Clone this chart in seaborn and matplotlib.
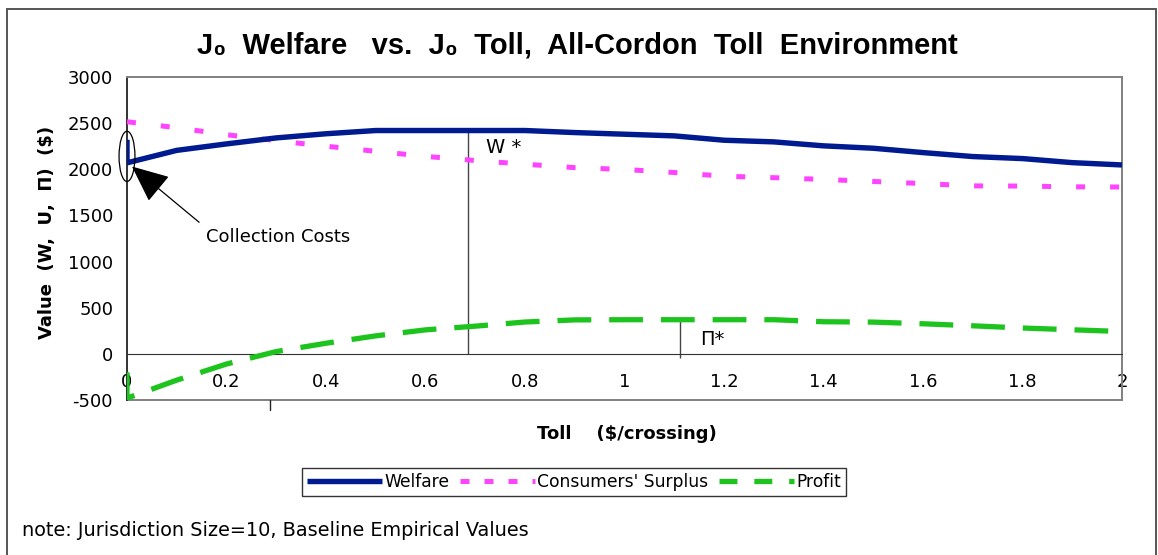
import numpy as np
import pandas as pd
import matplotlib
matplotlib.use("Agg")
import matplotlib.pyplot as plt
import seaborn as sns
from matplotlib.lines import Line2D
from matplotlib.patches import Ellipse, Rectangle

# toll values ($/crossing); x=0 appears twice (with and without collection costs)
toll = [0, 0, 0.1, 0.2, 0.3, 0.4, 0.5, 0.6, 0.7, 0.8, 0.9, 1.0,
        1.1, 1.2, 1.3, 1.4, 1.5, 1.6, 1.7, 1.8, 1.9, 2.0]
welfare = [2320, 2070, 2205, 2275, 2340, 2385, 2420, 2420, 2420, 2420, 2398, 2380,
           2362, 2315, 2297, 2254, 2228, 2181, 2138, 2116, 2072, 2047]
cons_surplus = [2515, 2515, 2450, 2375, 2310, 2250, 2195, 2140, 2095, 2055, 2018, 1998,
                1965, 1925, 1909, 1890, 1868, 1845, 1820, 1818, 1810, 1808]
profit = [-200, -480, -285, -110, 25, 115, 195, 260, 300, 345, 368, 370,
          370, 370, 370, 348, 344, 326, 304, 280, 261, 242]

w_star_toll, w_star_val = 0.685, 2410
p_star_toll, p_star_val = 1.112, 370

x_ticks = [0, 0.2, 0.4, 0.6, 0.8, 1, 1.2, 1.4, 1.6, 1.8, 2]
x_tick_labels = ['0', '0.2', '0.4', '0.6', '0.8', '1', '1.2', '1.4', '1.6', '1.8', '2']
y_ticks = [-500, 0, 500, 1000, 1500, 2000, 2500, 3000]

df = pd.DataFrame({'Toll': toll, 'Welfare': welfare,
                   "Consumers' Surplus": cons_surplus, 'Profit': profit})

navy = '#001a8f'
pink = '#ff44ff'
green = '#1ec41e'
pink_dash = (1.8, 5.0)
green_dash = (6.4, 3.4)

sns.set_style('white')
plt.rcParams['font.family'] = ['DejaVu Sans']
plt.rcParams['axes.unicode_minus'] = False
for k in ['text.color', 'axes.labelcolor', 'xtick.color', 'ytick.color']:
    plt.rcParams[k] = 'black'

fig = plt.figure(figsize=(11.58, 5.55), dpi=100)
ax = fig.add_axes([127 / 1158, 1 - 400 / 555, (1122 - 127) / 1158, (400 - 77) / 555])

sns.lineplot(data=df, x='Toll', y='Welfare', estimator=None, sort=False,
             color=navy, linewidth=3.9, ax=ax, zorder=4)
sns.lineplot(data=df, x='Toll', y="Consumers' Surplus", estimator=None, sort=False,
             color=pink, linewidth=3.6, ax=ax, zorder=3)
ax.lines[-1].set_dashes(pink_dash)
sns.lineplot(data=df, x='Toll', y='Profit', estimator=None, sort=False,
             color=green, linewidth=3.8, ax=ax, zorder=3)
ax.lines[-1].set_dashes(green_dash)
for ln in ax.lines:
    ln.set_solid_capstyle('butt')
    ln.set_dash_capstyle('butt')

# optimum markers
ax.vlines(w_star_toll, 0, w_star_val, color='#444444', linewidth=1, zorder=2)
ax.vlines(p_star_toll, -40, p_star_val, color='#444444', linewidth=1, zorder=2)
ax.text(w_star_toll + 0.036, 2240, 'W *', fontsize=14, ha='left', va='center')
ax.text(p_star_toll + 0.04, 160, 'Π*', fontsize=14, ha='left', va='center')

# collection cost callout
ax.add_patch(Ellipse((0.0, 2140), 0.032, 545, fill=False, edgecolor='black',
                     linewidth=0.9, clip_on=False, zorder=5))
ax.annotate('Collection Costs', xy=(0.01, 2030), xytext=(0.158, 1270),
            fontsize=13, ha='left', va='center',
            arrowprops=dict(arrowstyle='-|>,head_length=1.8,head_width=0.8',
                            color='black', linewidth=0.9, shrinkA=3, shrinkB=0,
                            relpos=(0, 1)),
            zorder=6)

ax.set_xlim(0, 2)
ax.set_ylim(-500, 3000)
ax.set_xticks(x_ticks)
ax.set_xticklabels(x_tick_labels)
ax.set_yticks(y_ticks)
ax.tick_params(axis='x', direction='inout', length=9, width=1, color='#222222',
               labelsize=13, pad=9)
ax.tick_params(axis='y', direction='inout', length=8, width=1, color='#222222',
               labelsize=13, pad=6)

ax.spines['bottom'].set_position(('data', 0))
ax.spines['bottom'].set_color('#333333')
ax.spines['left'].set_color('#333333')
ax.spines['left'].set_linewidth(1.4)
for s in ['top', 'right']:
    ax.spines[s].set_color('#808080')
    ax.spines[s].set_linewidth(1.4)
ax.axhline(-500, color='#808080', linewidth=1.4, clip_on=False, zorder=1)
ax.axvline(0.287, ymin=-0.03, ymax=0, color='#222222', linewidth=1, clip_on=False)

ax.set_xlabel('')
ax.set_ylabel('')
fig.text(47 / 1158, 1 - 232 / 555, 'Value  (W,  U,  Π)  ($)', rotation=90,
         fontsize=13, fontweight='bold', ha='center', va='center')
fig.text(627 / 1158, 1 - 434 / 555, 'Toll    ($/crossing)', fontsize=13,
         fontweight='bold', ha='center', va='center')
fig.text(577 / 1158, 1 - 45 / 555,
         'J₀  Welfare   vs.  J₀  Toll,  All-Cordon  Toll  Environment',
         fontsize=21, fontweight='bold', ha='center', va='center',
         family=['Liberation Sans', 'DejaVu Sans'])
fig.text(22 / 1158, 1 - 531 / 555,
         'note: Jurisdiction Size=10, Baseline Empirical Values',
         fontsize=13.9, ha='left', va='center')

handles = [Line2D([], [], color=navy, linewidth=3.9, solid_capstyle='butt'),
           Line2D([], [], color=pink, linewidth=3.6, dashes=(1.8, 3.0)),
           Line2D([], [], color=green, linewidth=3.8, dashes=(3.4, 3.2))]
leg = fig.legend(handles, ['Welfare', "Consumers' Surplus", 'Profit'],
                 loc='center', bbox_to_anchor=(574 / 1158, 1 - 482 / 555),
                 ncol=3, fontsize=12.3, frameon=True, fancybox=False,
                 handlelength=4.4, handletextpad=0.15, columnspacing=0.6,
                 borderpad=0.3, borderaxespad=0)
leg.get_frame().set_edgecolor('black')
leg.get_frame().set_linewidth(1)

# outer chart border
fig.patches.append(Rectangle((7 / 1158, -0.05), (1156 - 7) / 1158, 1.05 - 9 / 555,
                             transform=fig.transFigure, fill=False,
                             edgecolor='#555555', linewidth=1.4))

fig.savefig('out.png', dpi=100)
